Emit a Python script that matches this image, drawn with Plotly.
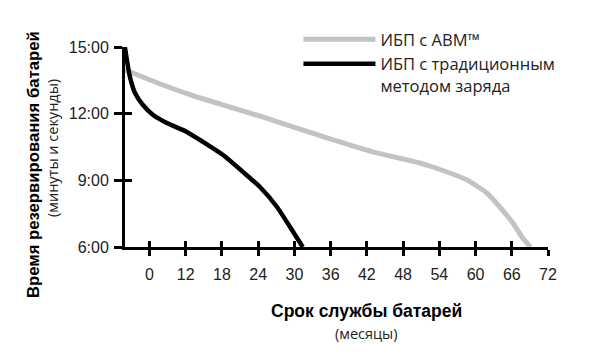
import plotly.graph_objects as go

# x positions are tick-slot units (evenly spaced ticks labelled as below)
tick_pos = list(range(12))
tick_labels = ["0", "12", "18", "24", "30", "36", "42", "48", "54", "60", "66", "72"]

y_ticks = [6, 9, 12, 15]
y_labels = ["6:00", "9:00", "12:00", "15:00"]

abm_x = [-0.68, -0.46, 0.37, 1.31, 2.22, 2.97, 3.60, 4.90, 6.17, 7.46, 7.82, 8.76, 9.31, 9.67, 10.03, 10.30, 10.52]
abm_y = [13.97, 13.83, 13.29, 12.75, 12.30, 11.93, 11.60, 10.91, 10.28, 9.78, 9.60, 9.02, 8.43, 7.80, 7.08, 6.41, 6.00]

trad_x = [-0.68, -0.54, -0.40, -0.18, 0.10, 0.48, 1.03, 1.48, 2.03, 2.58, 3.05, 3.52, 3.88, 4.23]
trad_y = [15.00, 13.65, 12.93, 12.39, 11.94, 11.58, 11.18, 10.73, 10.14, 9.38, 8.70, 7.80, 6.90, 6.00]

fig = go.Figure()
fig.add_trace(go.Scatter(x=abm_x, y=abm_y, mode="lines", name="ИБП с ABM™",
                         line=dict(color="#c3c3c3", width=5, shape="spline", smoothing=0.6),
                         cliponaxis=False))
fig.add_trace(go.Scatter(x=trad_x, y=trad_y, mode="lines", name="ИБП с традиционным<br>методом заряда",
                         line=dict(color="#000000", width=4.5, shape="spline", smoothing=0.6),
                         cliponaxis=False))
# invisible trace on overlay axes to carry inside ticks
fig.add_trace(go.Scatter(x=[None], y=[None], xaxis="x2", yaxis="y2", showlegend=False, hoverinfo="skip"))

xr = [-0.676, 11.0]
yr = [6, 15]
tickfont = dict(family="Liberation Sans, Arial, sans-serif", size=16, color="#222222")

fig.update_layout(
    width=593, height=360,
    margin=dict(l=117, r=53, t=39, b=121, autoexpand=False),
    paper_bgcolor="white", plot_bgcolor="white",
    showlegend=True,
    legend=dict(x=0.41, y=1.125, xanchor="left", yanchor="top", bgcolor="rgba(0,0,0,0)",
                font=dict(family="Open Sans, sans-serif", size=16.5, color="#222222"),
                itemwidth=72, valign="top", tracegroupgap=0),
    xaxis=dict(range=xr, tickvals=tick_pos, ticktext=tick_labels, showgrid=False, zeroline=False,
               showline=True, linecolor="black", linewidth=3, ticks="outside", ticklen=6,
               tickwidth=3, tickcolor="black", tickfont=tickfont, ticklabelstandoff=5),
    yaxis=dict(range=yr, tickvals=y_ticks, ticktext=y_labels, showgrid=False, zeroline=False,
               showline=True, linecolor="black", linewidth=3, ticks="outside", ticklen=8,
               tickwidth=3, tickcolor="black", tickfont=tickfont, ticklabelstandoff=2),
    xaxis2=dict(range=xr, tickvals=tick_pos, showticklabels=False, overlaying="x", showgrid=False,
                zeroline=False, showline=False, ticks="inside", ticklen=6, tickwidth=3,
                tickcolor="black", anchor="y2"),
    yaxis2=dict(range=yr, tickvals=y_ticks, showticklabels=False, overlaying="y", showgrid=False,
                zeroline=False, showline=False, ticks="inside", ticklen=7, tickwidth=3,
                tickcolor="black", anchor="x2"),
    annotations=[
        dict(text="<b>Время резервирования батарей</b>", xref="paper", yref="paper",
             x=-0.2175, y=0.415, xanchor="center", yanchor="middle", textangle=-90, showarrow=False,
             font=dict(family="Liberation Sans, Arial, sans-serif", size=16.7, color="black")),
        dict(text="(минуты и секунды)", xref="paper", yref="paper",
             x=-0.1726, y=0.495, xanchor="center", yanchor="middle", textangle=-90, showarrow=False,
             font=dict(family="Open Sans, sans-serif", size=14.5, color="#222222")),
        dict(text="<b>Срок службы батарей</b>", xref="paper", yref="paper",
             x=0.572, y=-0.32, xanchor="center", yanchor="middle", showarrow=False,
             font=dict(family="Liberation Sans, Arial, sans-serif", size=17.5, color="black")),
        dict(text="(месяцы)", xref="paper", yref="paper",
             x=0.572, y=-0.43, xanchor="center", yanchor="middle", showarrow=False,
             font=dict(family="Open Sans, sans-serif", size=14.5, color="#222222")),
    ],
)

fig.write_html("out.html")
